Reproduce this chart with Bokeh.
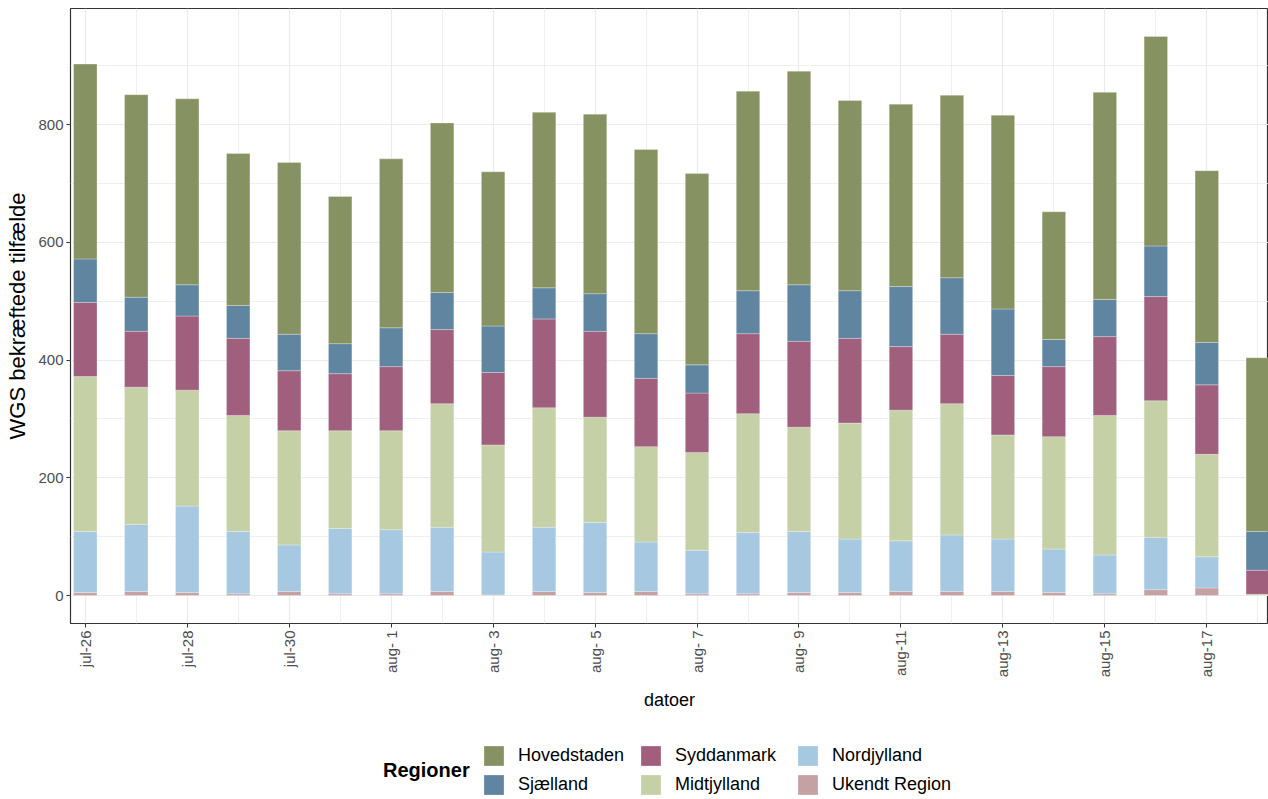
import math
from bokeh.plotting import figure
from bokeh.layouts import column
from bokeh.models import (ColumnDataSource, Range1d, FixedTicker, Legend, LegendItem)
from bokeh.embed import file_html
from bokeh.resources import INLINE

# ---- data ----
dates = ["jul-26", "jul-27", "jul-28", "jul-29", "jul-30", "jul-31", "aug-1", "aug-2",
         "aug-3", "aug-4", "aug-5", "aug-6", "aug-7", "aug-8", "aug-9", "aug-10",
         "aug-11", "aug-12", "aug-13", "aug-14", "aug-15", "aug-16", "aug-17", "aug-18"]
tick_labels = ["jul-26", "jul-28", "jul-30", "aug- 1", "aug- 3", "aug- 5", "aug- 7",
               "aug- 9", "aug-11", "aug-13", "aug-15", "aug-17"]
regions = ["Ukendt Region", "Nordjylland", "Midtjylland", "Syddanmark", "Sjælland", "Hovedstaden"]
ukendt = [5, 7, 5, 3, 7, 3, 3, 7, 1, 7, 5, 7, 3, 3, 5, 5, 7, 7, 7, 5, 3, 10, 13, 0]
nordjylland = [104, 114, 147, 106, 79, 111, 109, 109, 73, 109, 119, 84, 74, 104, 104, 91, 86, 96, 89, 74, 66, 89, 53, 0]
midtjylland = [263, 233, 197, 197, 194, 166, 168, 210, 182, 203, 179, 162, 166, 202, 177, 197, 222, 223, 177, 191, 237, 232, 174, 2]
syddanmark = [126, 95, 126, 131, 102, 97, 109, 126, 123, 151, 146, 116, 101, 136, 146, 144, 108, 118, 101, 119, 134, 177, 118, 41]
sjaelland = [74, 58, 53, 56, 62, 51, 66, 63, 79, 53, 64, 76, 48, 73, 96, 81, 102, 96, 113, 46, 63, 86, 72, 66]
hovedstaden = [331, 344, 316, 258, 292, 250, 287, 288, 262, 298, 305, 313, 325, 339, 363, 323, 310, 310, 329, 217, 352, 356, 292, 295]
colors = ["#C6A1A4", "#A6C9E1", "#C5D0A6", "#A0607D", "#6085A0", "#879262"]
legend_title = "Regioner"

FONT = "Liberation Sans"

x_idx = list(range(len(dates)))
source = ColumnDataSource(dict(x=x_idx, dato=dates, u=ukendt, n=nordjylland, m=midtjylland,
                               s=syddanmark, sj=sjaelland, h=hovedstaden))
keys = ["u", "n", "m", "s", "sj", "h"]

p = figure(width=1268, height=740, output_backend="svg", toolbar_location=None,
           x_range=Range1d(-0.29, 23.21), y_range=Range1d(-47.5, 997.5),
           min_border_left=70, min_border_right=0, min_border_top=8, min_border_bottom=117)

rs = p.vbar_stack(keys, x="x", width=0.46, source=source, color=colors,
                  line_color="white", line_alpha=0.45, line_width=0.6)

# axes
p.xaxis.ticker = FixedTicker(ticks=list(range(0, 24, 2)), minor_ticks=list(range(1, 24, 2)))
p.xaxis.major_label_overrides = {i * 2: lab for i, lab in enumerate(tick_labels)}
p.xaxis.major_label_orientation = math.pi / 2
p.yaxis.ticker = FixedTicker(ticks=[0, 200, 400, 600, 800], minor_ticks=[100, 300, 500, 700, 900])

for ax in (p.xaxis[0], p.yaxis[0]):
    ax.axis_line_color = None
    ax.major_tick_line_color = "#333333"
    ax.major_tick_in = 0
    ax.major_tick_out = 4
    ax.minor_tick_line_color = None
    ax.major_label_text_font = FONT
    ax.major_label_text_font_size = "15px"
    ax.major_label_text_color = "#4D4D4D"
    ax.major_label_standoff = 3
    ax.axis_label_text_font = FONT
    ax.axis_label_text_font_style = "normal"
    ax.axis_label_text_color = "black"

p.xaxis.axis_label = "datoer"
p.xaxis.axis_label_text_font_size = "18px"
p.xaxis.axis_label_standoff = 10
p.yaxis.axis_label = "WGS bekræftede tilfælde"
p.yaxis.axis_label_text_font_size = "22px"
p.yaxis.axis_label_standoff = 5

# grids
for g in (p.xgrid[0], p.ygrid[0]):
    g.grid_line_color = "#EBEBEB"
    g.grid_line_width = 1.2
    g.minor_grid_line_color = "#EBEBEB"
    g.minor_grid_line_width = 0.8

p.outline_line_color = "#333333"
p.outline_line_width = 1.2
p.background_fill_color = "white"
p.border_fill_color = "white"

# ---- legend strip (separate figure below the chart) ----
lf = figure(width=1268, height=59, output_backend="svg", toolbar_location=None,
            x_range=Range1d(0, 1), y_range=Range1d(0, 1),
            min_border_left=0, min_border_right=0, min_border_top=0, min_border_bottom=0)
lf.axis.visible = False
lf.grid.visible = False
lf.outline_line_color = None
lf.background_fill_color = "white"
lf.border_fill_color = "white"

# legend-key renderers: one bar each, kept entirely outside the strip's visible ranges
leg_renderers = {}
for name, col in zip(regions, colors):
    src = ColumnDataSource(dict(x=[-50], top=[-40], bottom=[-41]))
    leg_renderers[name] = lf.vbar(x="x", top="top", bottom="bottom", width=0.5, source=src,
                                  fill_color=col, line_color="white", line_alpha=0.45,
                                  line_width=0.6)

order = ["Hovedstaden", "Sjælland", "Syddanmark", "Midtjylland", "Nordjylland", "Ukendt Region"]
items = [LegendItem(label=name, renderers=[leg_renderers[name]]) for name in order]
legend = Legend(items=items, location=(411, 2), orientation="vertical", nrows=2,
                glyph_width=25, glyph_height=25, label_height=25, label_width=116, spacing=4,
                label_standoff=12, padding=0, margin=0,
                label_text_font=FONT, label_text_font_size="18px", label_text_color="black",
                border_line_color=None, background_fill_alpha=0)
lf.add_layout(legend)

dummy = lf.scatter(x=[-50], y=[-50], size=0, fill_alpha=0, line_alpha=0)
title_legend = Legend(items=[LegendItem(label=legend_title, renderers=[dummy])],
                      location=(313, 16), glyph_width=0, glyph_height=25, label_height=25,
                      label_standoff=0, padding=0, margin=0, spacing=0,
                      label_text_font=FONT, label_text_font_size="20px",
                      label_text_font_style="bold", label_text_color="black",
                      border_line_color=None, background_fill_alpha=0)
lf.add_layout(title_legend)

open("out.html", "w").write(file_html(column(p, lf), INLINE))
